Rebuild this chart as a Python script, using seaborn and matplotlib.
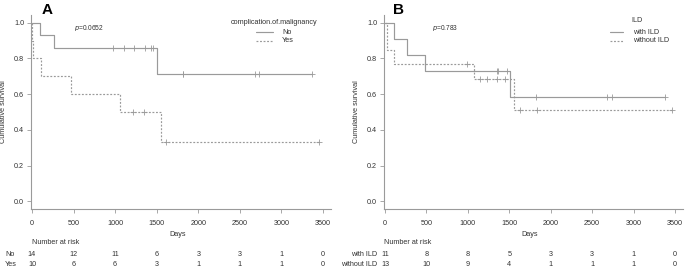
import numpy as np
import pandas as pd
import matplotlib
matplotlib.use("Agg")
import matplotlib.pyplot as plt
import seaborn as sns

sns.set_theme(style="ticks")
plt.rcParams['font.family'] = ['Liberation Sans', 'DejaVu Sans']

# ---------------- data ----------------
a_no_times = [96, 264, 976, 1104, 1228, 1360, 1436, 1456, 1505, 1812, 1822, 2676, 2728, 3368]
a_no_events = [1, 1, 0, 0, 0, 0, 0, 0, 1, 0, 0, 0, 0, 0]
a_yes_times = [6, 8, 104, 464, 1064, 1216, 1344, 1556, 1616, 3448]
a_yes_events = [1, 1, 1, 1, 1, 0, 0, 1, 0, 0]

b_with_times = [108, 268, 477, 1350, 1365, 1470, 1510, 1819, 2684, 2744, 3381]
b_with_events = [1, 1, 1, 0, 0, 0, 1, 0, 0, 0, 0]
b_without_times = [28, 30, 108, 990, 1070, 1142, 1230, 1350, 1450, 1558, 1630, 1831, 3461]
b_without_events = [1, 1, 1, 0, 1, 0, 0, 0, 0, 1, 0, 0, 0]

risk_times = [0, 500, 1000, 1500, 2000, 2500, 3000, 3500]
a_risk_no = [14, 12, 11, 6, 3, 3, 1, 0]
a_risk_yes = [10, 6, 6, 3, 1, 1, 1, 0]
b_risk_with = [11, 8, 8, 5, 3, 3, 1, 0]
b_risk_without = [13, 10, 9, 4, 1, 1, 1, 0]

a_groups = ["No", "Yes"]
b_groups = ["with ILD", "without ILD"]
a_legend_title = "complication.of.malignancy"
b_legend_title = "ILD"
a_pvalue = "0.0652"
b_pvalue = "0.783"

LINE = "#9a9a9a"
TEXT = "#333333"
DOT = (0, (1.6, 1.4))


def km(times, events):
    t = np.asarray(times, float)
    e = np.asarray(events, int)
    order = np.argsort(t, kind="stable")
    t, e = t[order], e[order]
    n = len(t)
    s = 1.0
    xs, ys = [0.0], [1.0]
    cx, cy = [], []
    i = 0
    while i < n:
        ti = t[i]
        at_risk = n - i
        d = 0
        c = 0
        j = i
        while j < n and t[j] == ti:
            if e[j] == 1:
                d += 1
            else:
                c += 1
            j += 1
        if d > 0:
            s *= (at_risk - d) / at_risk
            xs.append(ti)
            ys.append(s)
        for _ in range(c):
            cx.append(ti)
            cy.append(s)
        i = j
    xs.append(t[-1])
    ys.append(s)
    return pd.DataFrame({"t": xs, "s": ys}), pd.DataFrame({"t": cx, "s": cy})


fig = plt.figure(figsize=(6.85, 2.67), dpi=100)
W, H = 685.0, 267.0


def make_axes(left_px, right_px):
    return fig.add_axes([left_px / W, (H - 209) / H, (right_px - left_px) / W, (209 - 15) / H])


def draw_panel(ax, datasets, styles):
    for (times, events), ls in zip(datasets, styles):
        curve, cens = km(times, events)
        sns.lineplot(data=curve, x="t", y="s", ax=ax, drawstyle="steps-post",
                     color=LINE, linestyle=ls, linewidth=0.85, sort=False,
                     estimator=None, errorbar=None)
        if len(cens):
            sns.scatterplot(data=cens, x="t", y="s", ax=ax, marker="+", s=14,
                            color=LINE, linewidth=0.6, zorder=3)
    ax.set_xlim(-12, 3596)
    ax.set_ylim(-0.043, 1.043)
    ax.set_xticks(risk_times)
    ax.set_yticks([0.0, 0.2, 0.4, 0.6, 0.8, 1.0])
    ax.set_yticklabels(["0.0", "0.2", "0.4", "0.6", "0.8", "1.0"])
    ax.tick_params(axis="both", length=3, width=0.6, color=LINE, labelsize=5.2,
                   labelcolor=TEXT, pad=2)
    ax.tick_params(axis="x", pad=5)
    for sp in ["top", "right"]:
        ax.spines[sp].set_visible(False)
    for sp in ["left", "bottom"]:
        ax.spines[sp].set_color(LINE)
        ax.spines[sp].set_linewidth(0.8)
    ax.set_xlabel("")
    ax.set_ylabel("")


def px(x, y):
    return x / W, (H - y) / H


# Panel A
axA = make_axes(31, 331)
draw_panel(axA, [(a_no_times, a_no_events), (a_yes_times, a_yes_events)], ["-", DOT])
# Panel B
axB = make_axes(384, 683)
draw_panel(axB, [(b_with_times, b_with_events), (b_without_times, b_without_events)], ["-", DOT])

# Panel letters
fig.text(*px(47, 10), "A", fontsize=11, fontweight="bold", ha="center", va="center", color="black")
fig.text(*px(398.5, 10), "B", fontsize=11, fontweight="bold", ha="center", va="center", color="black")

# p values
fig.text(*px(74, 28), r"$p$=" + a_pvalue, fontsize=4.8, ha="left", va="center", color=TEXT)
fig.text(*px(432, 28), r"$p$=" + b_pvalue, fontsize=4.8, ha="left", va="center", color=TEXT)

# y labels
fig.text(*px(4, 112), "Cumulative survival", fontsize=5.2, rotation=90, ha="center", va="center", color=TEXT)
fig.text(*px(357, 112), "Cumulative survival", fontsize=5.2, rotation=90, ha="center", va="center", color=TEXT)

# x labels
fig.text(*px(178, 234), "Days", fontsize=5.2, ha="center", va="center", color=TEXT)
fig.text(*px(530, 234), "Days", fontsize=5.2, ha="center", va="center", color=TEXT)

# Legends
def legend(title_xy, title, line_x0, line_x1, label_x, labels, ys):
    fig.text(*px(*title_xy), title, fontsize=5.2, ha="center", va="center", color=TEXT)
    for lab, y, ls in zip(labels, ys, ["-", DOT]):
        x0, yy = px(line_x0, y)
        x1, _ = px(line_x1, y)
        fig.add_artist(plt.Line2D([x0, x1], [yy, yy], transform=fig.transFigure,
                                  color=LINE, linestyle=ls, linewidth=0.85))
        fig.text(*px(label_x, y), lab, fontsize=5.2, ha="left", va="center", color=TEXT)

legend((274, 22), a_legend_title, 256, 273, 282, a_groups, [32, 41])
legend((637, 21), b_legend_title, 610, 623, 633, b_groups, [32, 41])

# Risk tables
def risk_table(ax, x_label_px, ha, names, rows, header_x):
    fig.text(*px(header_x, 243), "Number at risk", fontsize=5.2, ha="left", va="center", color=TEXT)
    for name, vals, y in zip(names, rows, [255, 264.5]):
        fig.text(*px(x_label_px, y), name, fontsize=5.2, ha=ha, va="center", color=TEXT)
        for t, v in zip(risk_times, vals):
            xd = ax.transData.transform((t, 0))[0]
            fig.text(xd / fig.dpi / fig.get_size_inches()[0], (H - y) / H, str(v),
                     fontsize=5.2, ha="center", va="center", color=TEXT)

fig.canvas.draw()
risk_table(axA, 5, "left", a_groups, [a_risk_no, a_risk_yes], 32)
risk_table(axB, 377, "right", b_groups, [b_risk_with, b_risk_without], 384)

fig.savefig("out.png", dpi=100)
